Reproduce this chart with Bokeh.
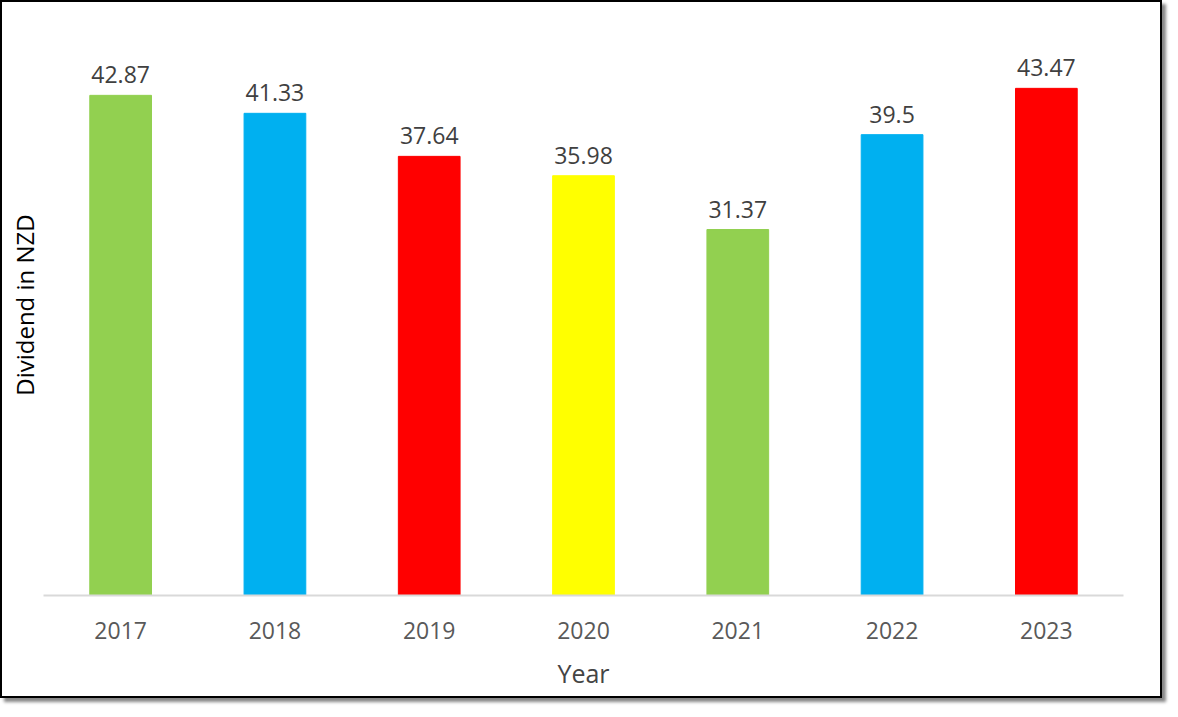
from bokeh.plotting import figure
from bokeh.models import ColumnDataSource, Range1d, Title, LabelSet
from bokeh.core.properties import value
from bokeh.embed import file_html
from bokeh.resources import INLINE

years = ["2017", "2018", "2019", "2020", "2021", "2022", "2023"]
dividends = [42.87, 41.33, 37.64, 35.98, 31.37, 39.5, 43.47]
colors = ["#92D050", "#00B0F0", "#FF0000", "#FFFF00", "#92D050", "#00B0F0", "#FF0000"]
labels = ["42.87", "41.33", "37.64", "35.98", "31.37", "39.5", "43.47"]

src = ColumnDataSource(dict(x=years, top=dividends, color=colors, label=labels))

p = figure(x_range=years, y_range=Range1d(0, 49.8), width=1162, height=698,
           output_backend="svg", toolbar_location=None,
           min_border_left=35, min_border_right=41, min_border_top=12, min_border_bottom=105)
p.styles = {"border": "2px solid black", "box-shadow": "4px 4px 3px #888"}
p.vbar(x="x", top="top", width=0.4, color="color", source=src)
p.add_layout(LabelSet(x="x", y="top", text="label", source=src, text_align="center",
                      text_baseline="bottom", y_offset=12, text_font_size="23px",
                      text_color="#404040", text_font=value("Open Sans")))
p.yaxis.visible = False
p.add_layout(Title(text="Dividend in NZD", align="center", text_font_size="24px",
                   text_font="Open Sans", text_font_style="normal", text_color="black",
                   standoff=6), "left")
p.xgrid.grid_line_color = None
p.ygrid.grid_line_color = None
p.outline_line_color = None
p.xaxis.axis_line_color = "#d9d9d9"
p.xaxis.axis_line_width = 2
p.xaxis.major_tick_line_color = None
p.xaxis.minor_tick_line_color = None
p.xaxis.major_label_text_font_size = "23px"
p.xaxis.major_label_text_color = "#595959"
p.xaxis.major_label_text_font = "Open Sans"
p.xaxis.major_label_standoff = 20
p.xaxis.axis_label = "Year"
p.xaxis.axis_label_text_font_size = "25px"
p.xaxis.axis_label_text_font_style = "normal"
p.xaxis.axis_label_text_font = "Open Sans"
p.xaxis.axis_label_standoff = 14

open("out.html", "w").write(file_html(p, INLINE))
